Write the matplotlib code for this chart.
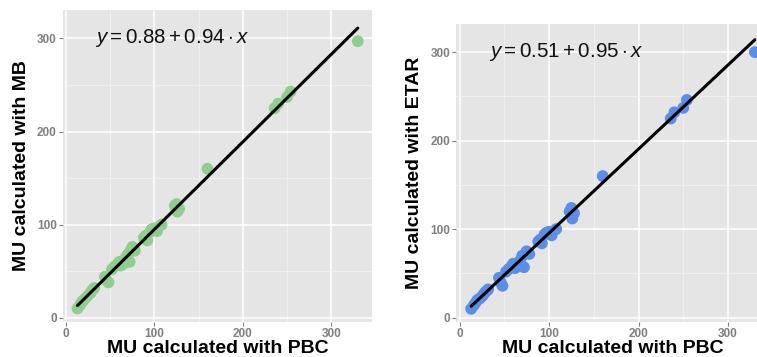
import matplotlib
matplotlib.use("Agg")
import matplotlib.pyplot as plt
import numpy as np

plt.rcParams['font.family'] = ['Liberation Sans', 'DejaVu Sans']
plt.rcParams['mathtext.fontset'] = 'custom'
plt.rcParams['mathtext.rm'] = 'Liberation Sans'
plt.rcParams['mathtext.it'] = 'Liberation Sans:italic'

# PBC values (x) shared by both panels
pbc = [13, 16, 18, 20, 23, 26, 28, 30, 32, 44, 46, 48, 52, 55, 58, 60, 62, 65, 68, 70,
       72, 73, 75, 78, 88, 90, 92, 95, 97, 100, 103, 108, 123, 125, 126, 128, 160, 236,
       240, 250, 254, 330]
mb = [10, 14, 17, 19, 22, 25, 27, 30, 32, 44, 40, 38, 52, 55, 57, 60, 56, 58, 65, 68,
      60, 72, 76, 72, 86, 88, 83, 92, 95, 96, 93, 100, 120, 122, 114, 117, 160, 225,
      230, 237, 243, 297]
etar = [10, 14, 17, 20, 22, 25, 28, 30, 32, 45, 40, 36, 52, 55, 58, 61, 56, 58, 65, 70,
        57, 72, 75, 72, 86, 88, 84, 94, 96, 97, 93, 100, 120, 124, 112, 118, 160, 225,
        232, 237, 246, 300]
mb_fit = (0.88, 0.94)
etar_fit = (0.51, 0.95)
ticks = [0, 100, 200, 300]
minor_ticks = [50, 150, 250]

fig = plt.figure(figsize=(7.57, 3.57), dpi=100)

def panel(rect, x, y, fit, color, ylabel, ylim):
    ax = fig.add_axes(rect)
    ax.set_facecolor('#e5e5e5')
    for s in ax.spines.values():
        s.set_visible(False)
    ax.set_xlim(-3.4, 345.9)
    ax.set_ylim(*ylim)
    ax.set_xticks(ticks)
    ax.set_yticks(ticks)
    ax.set_xticks(minor_ticks, minor=True)
    ax.set_yticks(minor_ticks, minor=True)
    ax.grid(True, which='major', color='white', linewidth=1.1)
    ax.grid(True, which='minor', color='#f2f2f2', linewidth=0.6)
    ax.set_axisbelow(True)
    ax.tick_params(which='major', length=3, color='#7f7f7f', labelsize=8.5,
                   labelcolor='#7f7f7f', pad=1.5)
    ax.tick_params(which='minor', length=0)
    for lab in ax.get_xticklabels() + ax.get_yticklabels():
        lab.set_fontweight('bold')
    ax.scatter(x, y, s=72, color=color, edgecolors='none', zorder=2)
    xs = np.array([min(x), max(x)])
    ax.plot(xs, fit[0] + fit[1] * xs, color='black', linewidth=2.2, zorder=3,
            solid_capstyle='round')
    ax.text(33, 300, r"$y = %.2f + %.2f \cdot x$" % fit, fontsize=14.8,
            va='center', ha='left', color='#111111')
    ax.set_xlabel('MU calculated with PBC', fontsize=14, fontweight='bold', labelpad=0)
    ax.set_ylabel(ylabel, fontsize=14, fontweight='bold', labelpad=5)
    return ax

panel([0.0832, 0.098, 0.408, 0.874], pbc, mb, mb_fit, '#8fce8f',
      'MU calculated with MB', (-4.6, 330.5))
panel([0.603, 0.099, 0.413, 0.834], pbc, etar, etar_fit, '#5b8fe6',
      'MU calculated with ETAR', (-4.5, 331.9))

fig.savefig('out.png', dpi=100)
